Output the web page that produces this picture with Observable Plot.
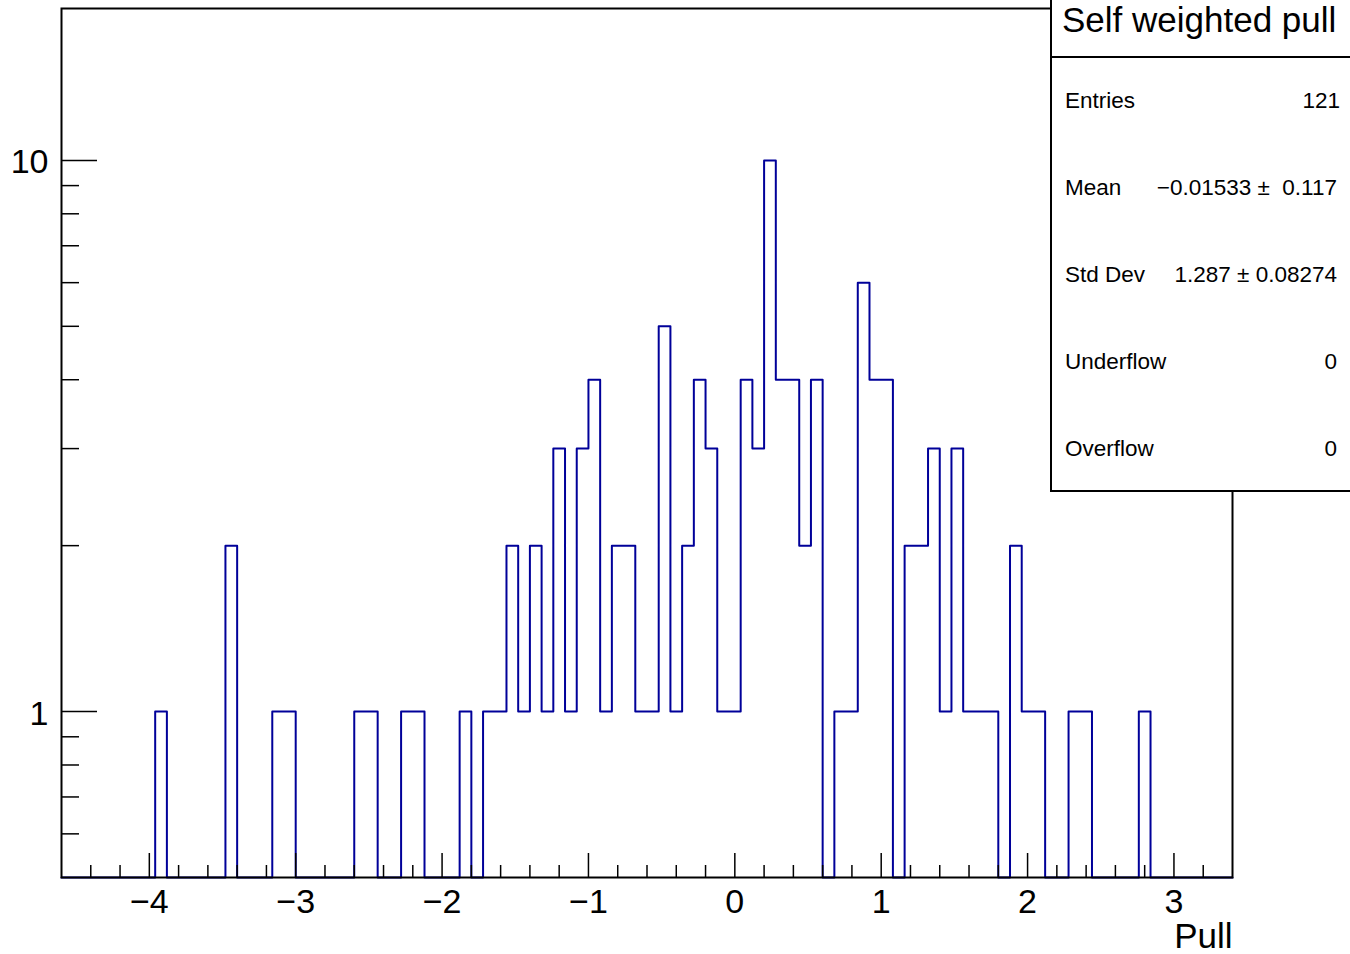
<!DOCTYPE html>
<html>
<head>
<meta charset="utf-8">
<script src="https://cdn.jsdelivr.net/npm/d3@7"></script>
<script src="https://cdn.jsdelivr.net/npm/@observablehq/plot@0.6"></script>
<style>
html, body { margin: 0; padding: 0; background: #fff; overflow: hidden; }
#wrap { position: relative; width: 1350px; height: 954px; font-family: "Liberation Sans", Arial, Helvetica, sans-serif; }
#wrap > svg { position: absolute; left: 0; top: 0; }
#overlay { pointer-events: none; }
</style>
</head>
<body>
<div id="wrap"></div>
<script>
// ---- Data ----
const binLow = -4.6;
const binHigh = 3.4;
const binWidth = 0.08;
// 100 bins of width 0.08 from -4.6 to 3.4
const counts = [
  0, 0, 0, 0, 0, 0, 0, 0, 1, 0,
  0, 0, 0, 0, 2, 0, 0, 0, 1, 1,
  0, 0, 0, 0, 0, 1, 1, 0, 0, 1,
  1, 0, 0, 0, 1, 0, 1, 1, 2, 1,
  2, 1, 3, 1, 3, 4, 1, 2, 2, 1,
  1, 5, 1, 2, 4, 3, 1, 1, 4, 3,
  10, 4, 4, 2, 4, 0, 1, 1, 6, 4,
  4, 0, 2, 2, 3, 1, 3, 1, 1, 1,
  0, 2, 1, 1, 0, 0, 1, 1, 0, 0,
  0, 0, 1, 0, 0, 0, 0, 0, 0, 0
];
const yMin = 0.5;
const yMax = 18.86;
const xMajorTicks = [-4, -3, -2, -1, 0, 1, 2, 3];
const xMinorTicks = [-4.4, -4.2, -3.8, -3.6, -3.4, -3.2, -2.8, -2.6, -2.4, -2.2,
  -1.8, -1.6, -1.4, -1.2, -0.8, -0.6, -0.4, -0.2, 0.2, 0.4, 0.6, 0.8,
  1.2, 1.4, 1.6, 1.8, 2.2, 2.4, 2.6, 2.8, 3.2];
const yMajorTicks = [1, 10];
const yTickLabels = ["1", "10"];
const yMinorTicks = [0.6, 0.7, 0.8, 0.9, 2, 3, 4, 5, 6, 7, 8, 9];
const xTitle = "Pull";
const statTitle = "Self weighted pull";
const statLabels = ["Entries", "Mean", "Std Dev", "Underflow", "Overflow"];
const statValues = ["121", "\u22120.01533 \u00b1  0.117", "1.287 \u00b1 0.08274", "0", "0"];

// ---- Build step outline ----
const points = counts.map((c, i) => ({x: binLow + i * binWidth, y: c > 0 ? c : yMin}));
points.push({x: binHigh, y: counts[counts.length - 1] > 0 ? counts[counts.length - 1] : yMin});

const fmt = d => d < 0 ? "\u2212" + Math.abs(d) : String(d);
const font = '"Liberation Sans", Arial, Helvetica, sans-serif';

const chart = Plot.plot({
  width: 1350,
  height: 954,
  marginLeft: 61,
  marginRight: 118,
  marginTop: 8,
  marginBottom: 77,
  x: {domain: [binLow, binHigh], axis: null},
  y: {type: "log", domain: [yMin, yMax], axis: null},
  style: {fontFamily: font, background: "white", overflow: "visible"},
  marks: [
    Plot.line(points, {x: "x", y: "y", curve: "step-after", stroke: "#000099", strokeWidth: 2}),
    Plot.ruleX(xMinorTicks, {x: d => d, y1: yMin, y2: yMin, insetTop: -12, stroke: "black", strokeWidth: 1.5}),
    Plot.ruleX(xMajorTicks, {x: d => d, y1: yMin, y2: yMin, insetTop: -24, stroke: "black", strokeWidth: 1.5}),
    Plot.ruleY(yMinorTicks, {y: d => d, x1: binLow, x2: binLow, insetRight: -18, stroke: "black", strokeWidth: 1.5}),
    Plot.ruleY(yMajorTicks, {y: d => d, x1: binLow, x2: binLow, insetRight: -36, stroke: "black", strokeWidth: 1.5}),
    Plot.frame({stroke: "black", strokeWidth: 2}),
    Plot.text(xMajorTicks, {x: d => d, frameAnchor: "bottom", dy: 35, lineAnchor: "bottom", text: d => fmt(d), fontSize: 34, fill: "black"}),
    Plot.text(yMajorTicks, {y: d => d, frameAnchor: "left", dx: -13, dy: 13, textAnchor: "end", lineAnchor: "bottom", text: (d, i) => yTickLabels[i], fontSize: 34, fill: "black"}),
    Plot.text([xTitle], {frameAnchor: "bottom-right", dy: 70, textAnchor: "end", lineAnchor: "bottom", text: d => d, fontSize: 35, fill: "black"})
  ]
});

const wrap = document.getElementById("wrap");
wrap.appendChild(chart);

// ---- Statistics box overlay ----
const ov = d3.select(wrap).append("svg")
  .attr("id", "overlay")
  .attr("width", 1350).attr("height", 954)
  .style("font-family", font);

ov.append("rect")
  .attr("x", 1051).attr("y", -10)
  .attr("width", 320).attr("height", 501)
  .attr("fill", "white").attr("stroke", "black").attr("stroke-width", 2);
ov.append("line")
  .attr("x1", 1051).attr("x2", 1350).attr("y1", 57).attr("y2", 57)
  .attr("stroke", "black").attr("stroke-width", 2);
ov.append("text")
  .attr("x", 1062).attr("y", 32)
  .attr("font-size", 35).attr("fill", "black")
  .text(statTitle);

const rowY = [108, 195, 282, 369, 456];
statLabels.forEach((lab, i) => {
  ov.append("text")
    .attr("x", 1065).attr("y", rowY[i])
    .attr("font-size", 22.5).attr("fill", "black")
    .text(lab);
  ov.append("text")
    .attr("x", i === 0 ? 1340 : 1337).attr("y", rowY[i])
    .attr("font-size", 22.5).attr("fill", "black")
    .attr("text-anchor", "end")
    .style("white-space", "pre")
    .text(statValues[i]);
});
</script>
</body>
</html>
